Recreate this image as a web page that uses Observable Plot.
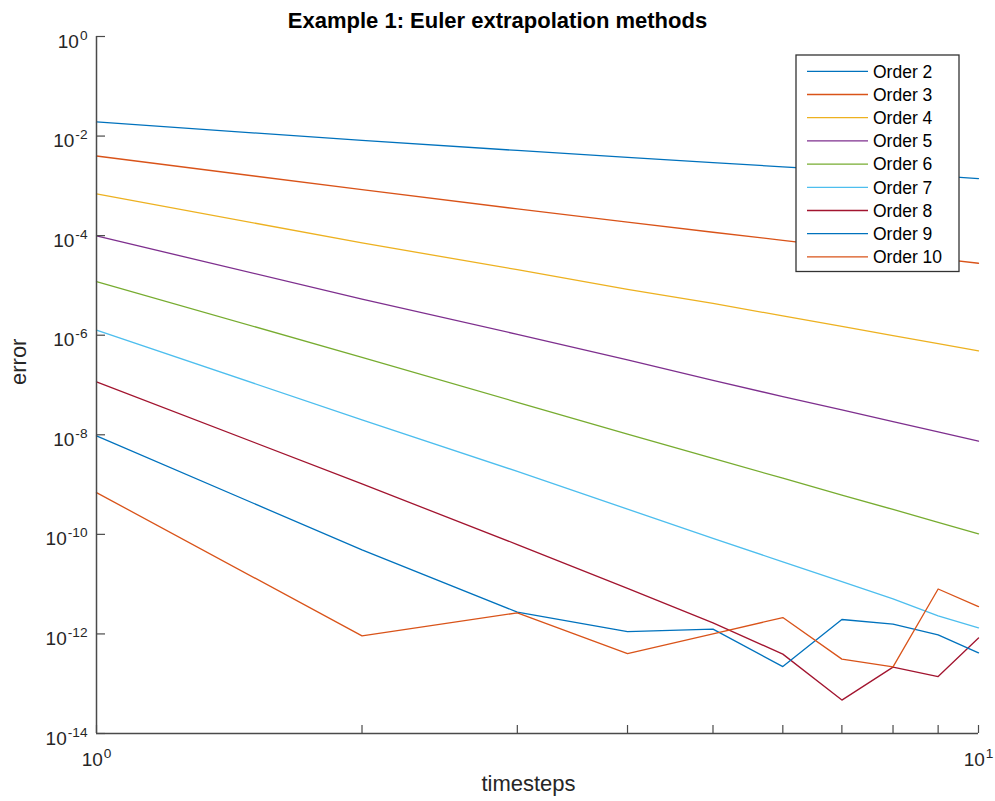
<!DOCTYPE html>
<html>
<head>
<meta charset="utf-8">
<script src="https://cdn.jsdelivr.net/npm/d3@7"></script>
<script src="https://cdn.jsdelivr.net/npm/@observablehq/plot@0.6"></script>
<style>
  html, body { margin: 0; padding: 0; background: #fff; }
  #chart svg { display: block; }
</style>
</head>
<body>
<div id="chart"></div>
<script>
// Number of timesteps
const steps = [1, 2, 3, 4, 5, 6, 7, 8, 9, 10];

// Error per extrapolation order
const order2  = [1.92e-2, 8.17e-3, 5.14e-3, 3.72e-3, 2.92e-3, 2.41e-3, 2.06e-3, 1.79e-3, 1.58e-3, 1.40e-3];
const order3  = [3.98e-3, 8.36e-4, 3.44e-4, 1.87e-4, 1.17e-4, 8.05e-5, 5.85e-5, 4.44e-5, 3.47e-5, 2.79e-5];
const order4  = [6.87e-4, 7.16e-5, 2.07e-5, 8.32e-6, 4.36e-6, 2.44e-6, 1.50e-6, 9.86e-7, 6.81e-7, 4.84e-7];
const order5  = [9.86e-5, 5.33e-6, 1.04e-6, 3.19e-7, 1.24e-7, 5.85e-8, 3.15e-8, 1.83e-8, 1.14e-8, 7.43e-9];
const order6  = [1.19e-5, 3.60e-7, 4.50e-8, 1.03e-8, 3.34e-9, 1.34e-9, 6.15e-10, 3.16e-10, 1.75e-10, 1.02e-10];
const order7  = [1.26e-6, 2.00e-8, 1.84e-9, 3.21e-10, 8.28e-11, 2.81e-11, 1.12e-11, 5.07e-12, 2.31e-12, 1.32e-12];
const order8  = [1.16e-7, 1.03e-9, 6.24e-11, 8.20e-12, 1.67e-12, 3.93e-13, 4.69e-14, 2.15e-13, 1.39e-13, 8.28e-13];
const order9  = [9.51e-9, 4.86e-11, 2.74e-12, 1.11e-12, 1.25e-12, 2.21e-13, 1.95e-12, 1.57e-12, 9.59e-13, 4.17e-13];
const order10 = [6.90e-10, 9.16e-13, 2.65e-12, 4.04e-13, 1.00e-12, 2.13e-12, 3.12e-13, 2.18e-13, 7.98e-12, 3.55e-12];

const seriesNames = ["Order 2", "Order 3", "Order 4", "Order 5", "Order 6", "Order 7", "Order 8", "Order 9", "Order 10"];
const seriesValues = [order2, order3, order4, order5, order6, order7, order8, order9, order10];
const seriesColors = ["#0072BD", "#D95319", "#EDB120", "#7E2F8E", "#77AC30", "#4DBEEE", "#A2142F", "#0072BD", "#D95319"];

// Axis ticks
const yTicks = [1e0, 1e-2, 1e-4, 1e-6, 1e-8, 1e-10, 1e-12, 1e-14];
const xTicks = steps;
const xLabelTicks = [1, 10];

const titleText = "Example 1: Euler extrapolation methods";
const xLabel = "timesteps";
const yLabel = "error";

// Long-format table for the line mark
const rows = [];
seriesValues.forEach((vals, i) => {
  vals.forEach((v, j) => rows.push({ step: steps[j], error: v, order: seriesNames[i] }));
});

const axisColor = "#4a4a4a";
const textColor = "#262626";
const font = "'Liberation Sans', Arial, Helvetica, sans-serif";
const powLabel = d => "10^" + Math.round(Math.log10(d));

const plot = Plot.plot({
  width: 995,
  height: 801,
  marginTop: 36,
  marginBottom: 68,
  marginLeft: 96,
  marginRight: 17,
  style: { fontFamily: font, fontSize: "19px", color: textColor, background: "#fff", overflow: "visible" },
  x: { type: "log", domain: [1, 10] },
  y: { type: "log", domain: [1e-14, 1] },
  color: { domain: seriesNames, range: seriesColors },
  marks: [
    Plot.line(rows, { x: "step", y: "error", z: "order", stroke: "order", strokeWidth: 1.3 }),
    // inward ticks
    Plot.axisY(yTicks, { tickSize: -9, tickFormat: () => "", stroke: axisColor, strokeWidth: 1.2, label: null }),
    Plot.axisX(xTicks, { tickSize: -8, tickFormat: () => "", stroke: axisColor, strokeWidth: 1.2, label: null }),
    // tick labels
    Plot.axisY(yTicks, { tickSize: 0, tickPadding: 9, dy: 5, tickFormat: powLabel, label: null, fill: textColor }),
    Plot.axisX(xLabelTicks, { tickSize: 0, tickPadding: 18.5, tickFormat: powLabel, label: null, fill: textColor }),
    // axis lines
    Plot.ruleX([1], { stroke: axisColor, strokeWidth: 1.5 }),
    Plot.ruleY([1e-14], { stroke: axisColor, strokeWidth: 1.5 }),
    // title and axis labels
    Plot.text([titleText], { text: d => d, frameAnchor: "top", lineAnchor: "middle", dx: -40, dy: -16,
      fontSize: 22, fontWeight: "bold", fill: "#000" }),
    Plot.text([xLabel], { text: d => d, frameAnchor: "bottom", lineAnchor: "middle", dx: -9, dy: 50,
      fontSize: 22, fill: textColor }),
    Plot.text([yLabel], { text: d => d, frameAnchor: "left", lineAnchor: "middle", rotate: -90, dx: -78,
      fontSize: 22, fill: textColor })
  ]
});

document.getElementById("chart").appendChild(plot);

// Render "10^k" tick labels with a raised exponent
const svg = d3.select(plot);
svg.selectAll("text").each(function () {
  const t = d3.select(this);
  const m = /^10\^(-?\d+)$/.exec(t.text());
  if (!m) return;
  t.text("10");
  t.append("tspan").attr("font-size", "0.72em").attr("dy", -8).attr("dx", 1).text(m[1]);
});

// Legend box
const colorScale = plot.scale("color");
const legend = svg.append("g")
  .attr("font-family", font)
  .attr("font-size", 17.5)
  .attr("text-anchor", "start");
const lx = 796, ly = 55, lw = 163, lh = 216.5, rowGap = 23.2, firstRow = 16.3;
legend.append("rect").attr("x", lx).attr("y", ly).attr("width", lw).attr("height", lh)
  .attr("fill", "#fff").attr("stroke", "#333").attr("stroke-width", 1.3);
seriesNames.forEach((name, i) => {
  const cy = ly + firstRow + i * rowGap;
  legend.append("line").attr("x1", lx + 11).attr("x2", lx + 72).attr("y1", cy).attr("y2", cy)
    .attr("stroke", seriesColors[colorScale.domain.indexOf(name)]).attr("stroke-width", 1.3);
  legend.append("text").attr("x", lx + 77).attr("y", cy).attr("dy", "0.36em")
    .attr("text-anchor", "start").attr("fill", "#000").text(name);
});
</script>
</body>
</html>
